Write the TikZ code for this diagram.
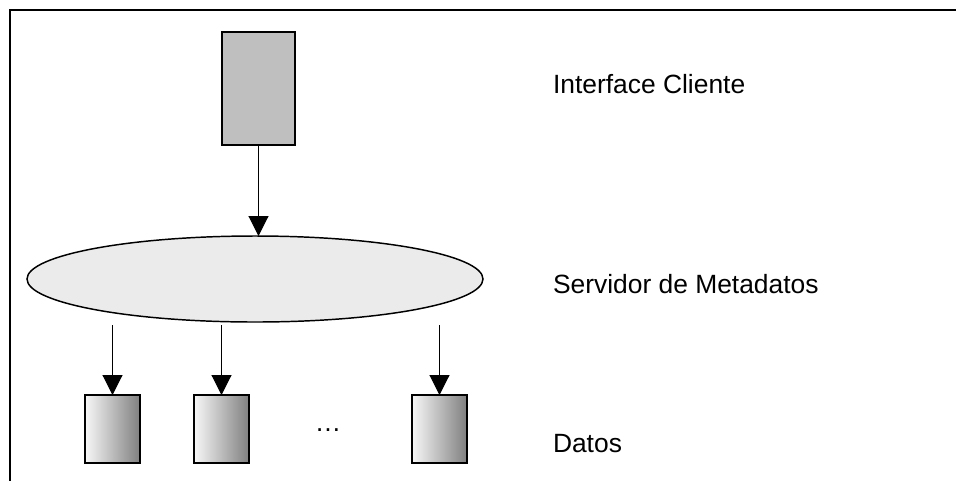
\documentclass[tikz,border=0pt]{standalone}
\usepackage{fontspec}
\setmainfont{Liberation Sans}
\usepackage{tikz}
\usetikzlibrary{shapes.geometric,arrows.meta,calc}

\begin{document}
\begin{tikzpicture}
    [x=0.75pt, y=-0.75pt,
    every node/.style={inner sep=0pt, outer sep=0pt},
    client box/.style={draw, line width=1.1pt, fill=black!25,
        minimum width=54.75pt, minimum height=84.75pt},
    meta ellipse/.style={ellipse, draw, line width=1.1pt, fill=black!8,
        minimum width=342pt, minimum height=64.5pt},
    data box/.style={draw, line width=1.1pt, left color=black!3, right color=black!50,
        minimum width=41.25pt, minimum height=51pt},
    layer label/.style={anchor=base west, font=\fontsize{19.8}{24}\selectfont},
    link/.style={-{Triangle[width=15pt,length=15pt]}, line width=0.8pt}
    ]
    \useasboundingbox (0,0) rectangle (956,480);
    \draw[line width=1.5pt] (9.5,481) -- (9.5,9.5) -- (957,9.5);

    \node (client) [client box] at (258.5,88.5) {};
    \node (meta) [meta ellipse] at (255,279) {};
    \node (data1) [data box] at (112.5,429) {};
    \node (data2) [data box] at (221.5,429) {};
    \node (data3) [data box] at (439.5,429) {};
    \node (dots) [anchor=base, font=\fontsize{19.8}{24}\selectfont] at (328,431) {…};

    \node (lclient) [layer label] at (553,93) {Interface Cliente};
    \node (lmeta) [layer label] at (553,293) {Servidor de Metadatos};
    \node (ldata) [layer label] at (553,452) {Datos};

    \draw[link] (client.south) -- (client.south |- meta.north);
    \draw[link] ([yshift=-2.25pt]data1.north |- meta.south) -- (data1.north);
    \draw[link] ([yshift=-2.25pt]data2.north |- meta.south) -- (data2.north);
    \draw[link] ([yshift=-2.25pt]data3.north |- meta.south) -- (data3.north);
\end{tikzpicture}
\end{document}
